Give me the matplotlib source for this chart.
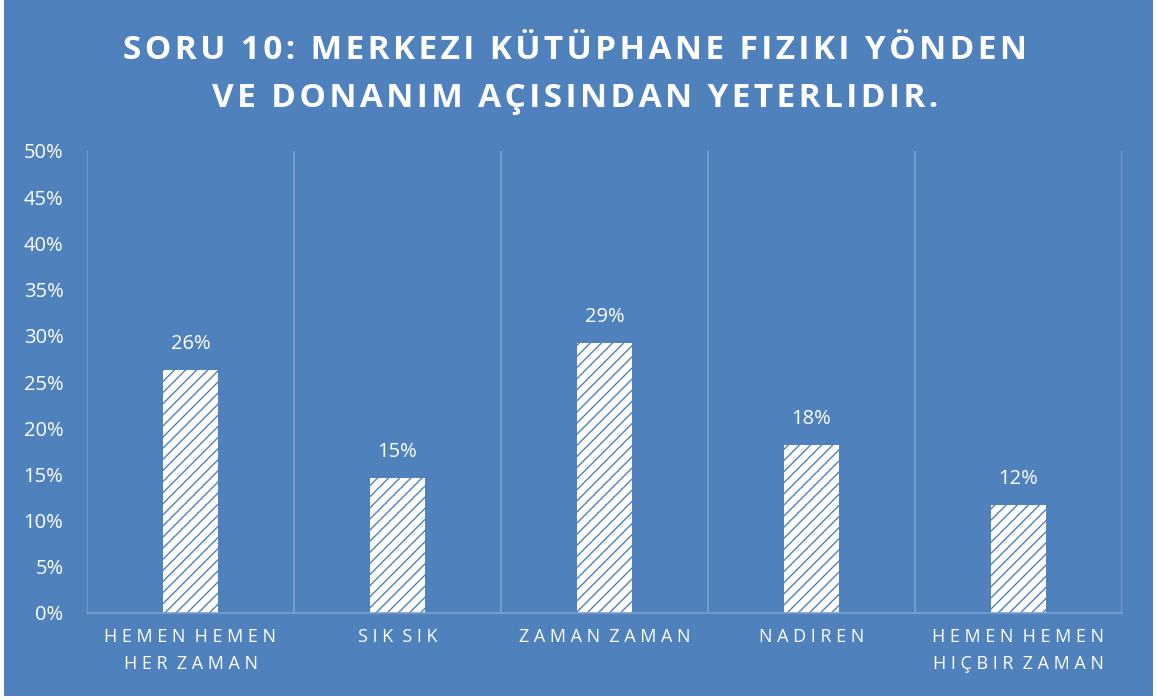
import matplotlib.pyplot as plt
from matplotlib.patches import Rectangle

categories = ['HEMEN HEMEN\nHER ZAMAN', 'SIK SIK', 'ZAMAN ZAMAN', 'NADIREN', 'HEMEN HEMEN\nHIÇBIR ZAMAN']
values = [26.3, 14.6, 29.2, 18.2, 11.7]
labels = ['26%', '15%', '29%', '18%', '12%']
yticks = [0, 5, 10, 15, 20, 25, 30, 35, 40, 45, 50]
title = 'SORU 10: MERKEZI KÜTÜPHANE FIZIKI YÖNDEN\nVE DONANIM AÇISINDAN YETERLIDIR.'

bg = '#4F81BD'
grid = '#7D9FD0'

plt.rcParams['font.family'] = ['Open Sans', 'DejaVu Sans']
plt.rcParams['hatch.color'] = bg
plt.rcParams['hatch.linewidth'] = 1.0


def spaced(s):
    # fake letter spacing
    return '\n'.join('  '.join(' '.join(w) for w in line.split(' ')) for line in s.split('\n'))


fig = plt.figure(figsize=(11.57, 7), dpi=100, facecolor='white')
fig.patches.append(Rectangle((4 / 1157, 4 / 700), 1149 / 1157, 696 / 700,
                             transform=fig.transFigure, facecolor=bg, edgecolor='none', zorder=-5))

ax = fig.add_axes([87 / 1157, 87 / 700, (1122 - 87) / 1157, (613 - 151) / 700])
ax.set_facecolor('none')
ax.set_zorder(2)

x = list(range(len(categories)))
ax.bar(x, values, width=0.27, color='white', edgecolor=bg, linewidth=0, hatch='///', zorder=2)
for i, v in enumerate(values):
    ax.text(i, v + 1.7, labels[i], ha='center', va='bottom', color='white', fontsize=14.5)

ax.set_xlim(-0.5, len(categories) - 0.5)
ax.set_ylim(0, 50)
ax.set_yticks(yticks)
ax.set_yticklabels([f'{t}%' for t in yticks], color='white', fontsize=14.5)
ax.set_xticks(x)
ax.set_xticklabels([spaced(c) for c in categories], color='white', fontsize=13, linespacing=1.65, va='top')
ax.tick_params(axis='both', length=0)
ax.tick_params(axis='y', pad=17)
ax.tick_params(axis='x', pad=11)

# category separators
for s in [i + 0.5 for i in range(-1, len(categories))]:
    ax.axvline(s, color=grid, linewidth=1.2, zorder=1)
for side in ['top', 'left', 'right']:
    ax.spines[side].set_visible(False)
ax.spines['bottom'].set_color(grid)
ax.spines['bottom'].set_linewidth(1.2)

hair = '\u200a'
fig.text(0.497, 0.894, '\n'.join(hair.join(line) for line in title.split('\n')),
         ha='center', va='center', color='white', fontsize=24, fontweight='bold', linespacing=1.6)

fig.savefig('out.png', dpi=100, facecolor='white')
